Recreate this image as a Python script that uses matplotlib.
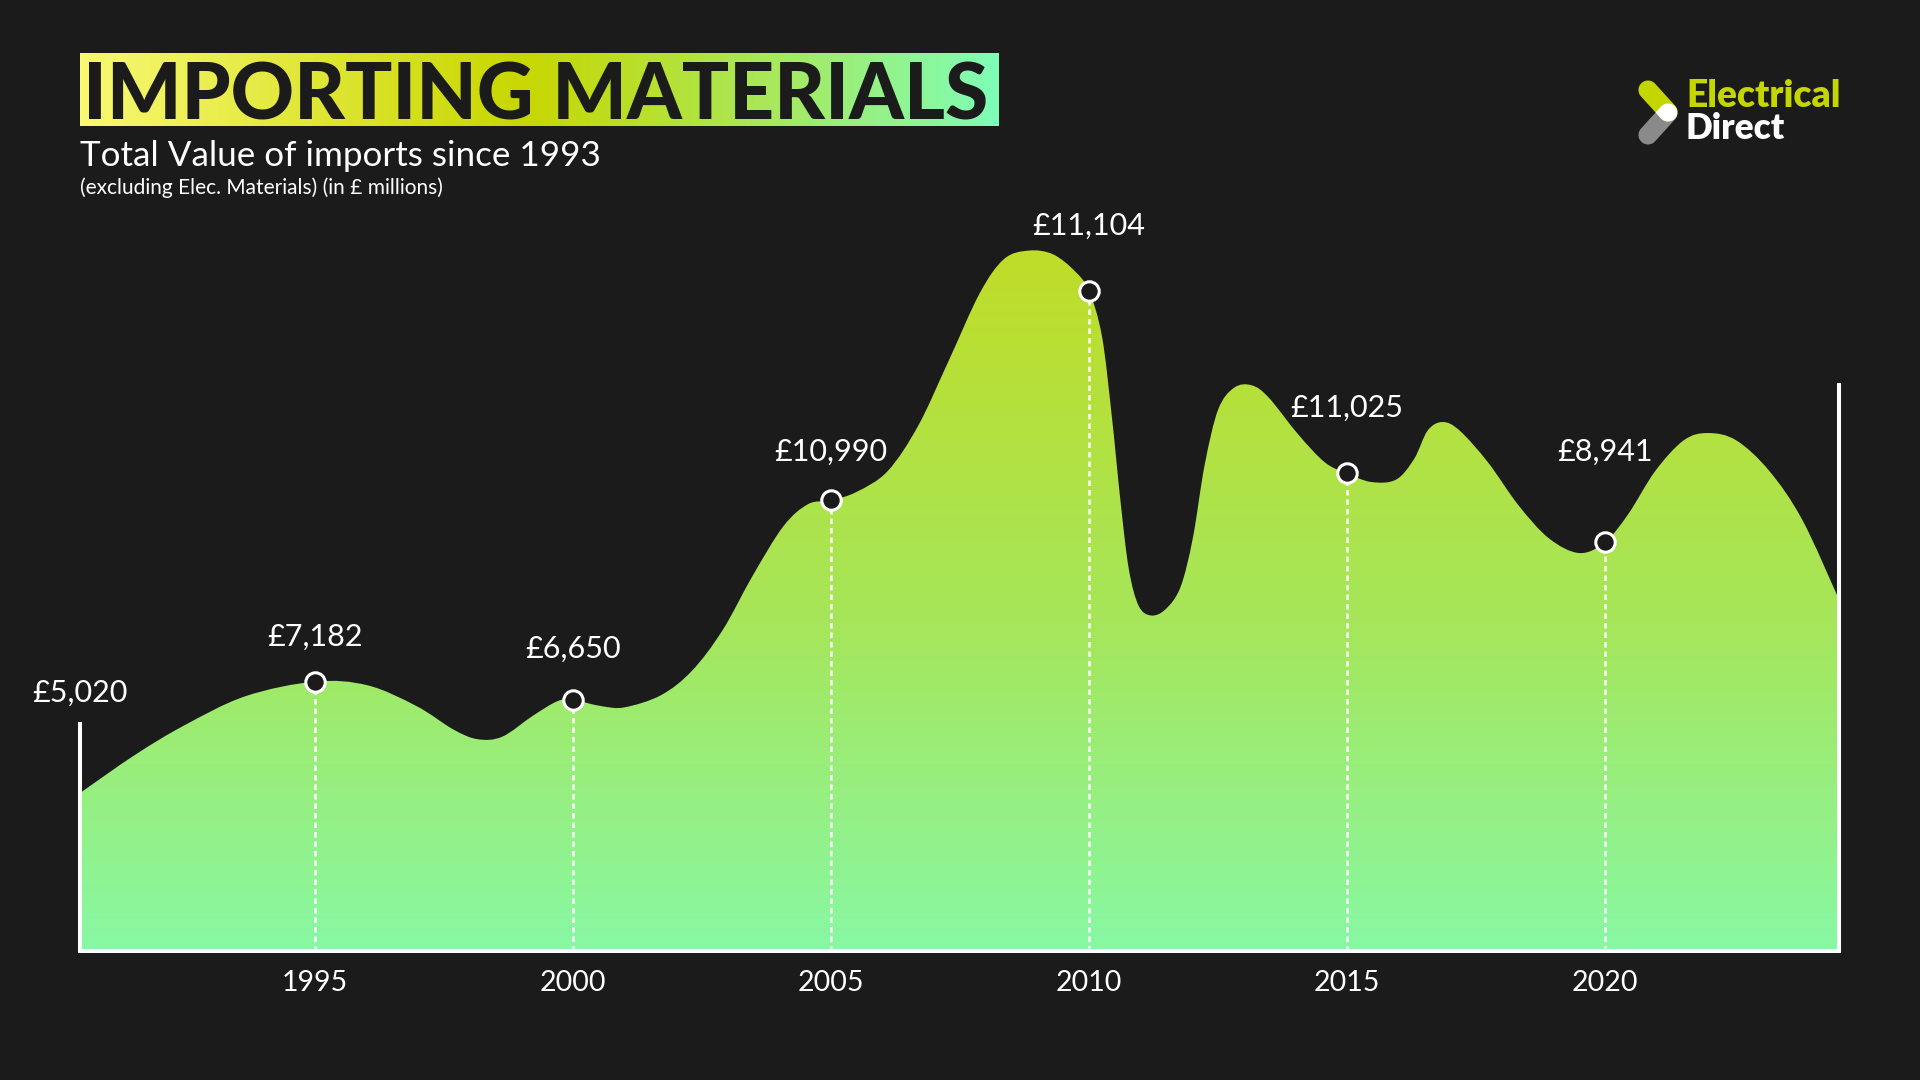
import numpy as np
import matplotlib
matplotlib.use("Agg")
import matplotlib.pyplot as plt
from matplotlib.path import Path
from matplotlib.patches import PathPatch, Polygon
from matplotlib.colors import LinearSegmentedColormap

BG = "#1b1b1b"
FONT = ["Lato", "DejaVu Sans"]

# ---------------- data ----------------
curve_years = [1990.45, 1991.51, 1992.46, 1993.65, 1995.00, 1996.02, 1996.97, 1997.68,
               1998.15, 1998.63, 1999.22, 1999.70, 2000.00, 2000.55, 2001.00, 2001.71,
               2002.31, 2002.90, 2003.49, 2004.08, 2004.56, 2005.00, 2005.50, 2006.10,
               2006.69, 2007.28, 2007.88, 2008.35, 2008.83, 2009.30, 2009.73, 2010.00,
               2010.25, 2010.44, 2010.61, 2010.77, 2010.96, 2011.20, 2011.48, 2011.77,
               2012.01, 2012.24, 2012.50, 2012.81, 2013.15, 2013.48, 2014.05, 2014.57,
               2015.00, 2015.47, 2015.95, 2016.30, 2016.56, 2016.85, 2017.18, 2017.73,
               2018.32, 2018.91, 2019.50, 2020.00, 2020.45, 2020.97, 2021.52, 2021.99,
               2022.54, 2023.18, 2023.82, 2024.53]
curve_height = [129, 160, 184, 208, 220, 217, 200, 181,
                173, 175, 192, 204, 205, 200, 199, 209,
                229, 262, 307, 347, 365, 368, 375, 392,
                429, 482, 537, 565, 572, 569, 555, 539,
                502, 437, 367, 312, 282, 274, 279, 297,
                337, 397, 442, 460, 462, 452, 422, 399,
                390, 383, 385, 402, 425, 432, 425, 399,
                364, 337, 325, 334, 357, 392, 417, 423,
                417, 392, 352, 287]

tick_years = [1995, 2000, 2005, 2010, 2015, 2020]
tick_labels = ["1995", "2000", "2005", "2010", "2015", "2020"]

value_labels = ["£5,020", "£7,182", "£6,650", "£10,990", "£11,104", "£11,025", "£8,941"]

left_frame_height = 187
right_frame_height = 464

# ---------------- layout / style ----------------
label_offsets = [72, 32.6, 37, 35.3, 46.7, 47.6, 65.2]   # points above the curve point
W, H = 1920, 1080
fig = plt.figure(figsize=(W / 100, H / 100), dpi=100, facecolor=BG)

x0, x1 = curve_years[0], curve_years[-1]
ymax_units = 700
ax_left, ax_right, ax_bottom = 80, 1839, 1080 - 951
ax = fig.add_axes([ax_left / W, ax_bottom / H, (ax_right - ax_left) / W,
                   ymax_units * 1.2245 / H])
ax.set_facecolor(BG)

# smooth curve via Catmull-Rom -> cubic Bezier
P = np.column_stack([curve_years, curve_height]).astype(float)
Pe = np.vstack([P[0], P, P[-1]])
verts = [tuple(P[0])]
codes = [Path.MOVETO]
for i in range(len(P) - 1):
    p0, p1, p2, p3 = Pe[i], Pe[i + 1], Pe[i + 2], Pe[i + 3]
    c1 = p1 + (p2 - p0) / 6.0
    c2 = p2 - (p3 - p1) / 6.0
    verts += [tuple(c1), tuple(c2), tuple(p2)]
    codes += [Path.CURVE4] * 3
verts += [(x1, 0), (x0, 0), (x0, curve_height[0])]
codes += [Path.LINETO, Path.LINETO, Path.CLOSEPOLY]
fill_path = Path(verts, codes)
patch = PathPatch(fill_path, facecolor="none", edgecolor="none")
ax.add_patch(patch)

fill_cmap = LinearSegmentedColormap.from_list(
    "fill", [(0.0, "#88f8a4"), (0.47, "#a6e65a"), (1.0, "#bfdd28")])
grad = np.linspace(0, 1, 512).reshape(-1, 1)
im = ax.imshow(grad, extent=[x0, x1, 0, max(curve_height)], origin="lower",
               cmap=fill_cmap, aspect="auto", interpolation="bicubic", zorder=1)
im.set_clip_path(patch)

# markers and dashed drop lines
marker_h = [curve_height[curve_years.index(float(y))] for y in tick_years]
ax.vlines(tick_years, 0, marker_h, colors="white", linestyles=(0, (2.2, 1.6)),
          linewidth=1.8, zorder=2)
ax.plot(tick_years, marker_h, linestyle="none", marker="o", ms=14, mfc=BG,
        mec="white", mew=2.2, zorder=4)

# frame lines
lw_frame = 2.9
ax.plot([x0, x1], [0, 0], color="white", lw=lw_frame, solid_capstyle="projecting",
        clip_on=False, zorder=3)
ax.plot([x0, x0], [0, left_frame_height], color="white", lw=lw_frame,
        solid_capstyle="butt", clip_on=False, zorder=3)
ax.plot([x1, x1], [0, right_frame_height], color="white", lw=lw_frame,
        solid_capstyle="butt", clip_on=False, zorder=3)

# value labels
label_x = [x0] + tick_years
label_y = [curve_height[0]] + marker_h
for lbl, lx, ly, off in zip(value_labels, label_x, label_y, label_offsets):
    ax.annotate(lbl, (lx, ly), xytext=(0, off), textcoords="offset points",
                ha="center", va="center", color="white", fontsize=22,
                family=FONT, zorder=5, annotation_clip=False)

ax.set_xlim(x0, x1)
ax.set_ylim(0, ymax_units)
ax.set_xticks(tick_years, tick_labels)
ax.set_yticks([])
ax.tick_params(axis="x", length=0, pad=14, labelsize=20.5, labelcolor="white")
for lab in ax.get_xticklabels():
    lab.set_family(FONT)
for s in ax.spines.values():
    s.set_visible(False)

# ---------------- overlay: title, subtitles, logo ----------------
ov = fig.add_axes([0, 0, 1, 1], zorder=6)
ov.patch.set_alpha(0)
ov.axis("off")

title_cmap = LinearSegmentedColormap.from_list(
    "title", [(0.0, "#f9f872"), (0.48, "#c8d700"), (0.75, "#a9e85a"), (1.0, "#7ffdb8")])
ov.imshow(np.linspace(0, 1, 256).reshape(1, -1), extent=[80, 999, 126, 53],
          cmap=title_cmap, aspect="auto", interpolation="bicubic")
ov.set_xlim(0, W)
ov.set_ylim(H, 0)

renderer = fig.canvas.get_renderer()


def fit(t, target_w):
    bb = t.get_window_extent(renderer)
    t.set_fontsize(t.get_fontsize() * target_w / bb.width)


t = ov.text(83, 119, "IMPORTING MATERIALS", ha="left", va="baseline",
            fontsize=58, fontweight="black", family=FONT, color=BG)
fit(t, 904)
t = ov.text(80, 166, "Total Value of imports since 1993", ha="left", va="baseline",
            fontsize=24, fontweight="normal", family=FONT, color="white")
fit(t, 521)
t = ov.text(80, 194, "(excluding Elec. Materials) (in £ millions)", ha="left",
            va="baseline", fontsize=12, fontweight="normal", family=FONT, color="white")
fit(t, 362)

# logo


def capsule(p1, p2, r, n=40):
    p1, p2 = np.asarray(p1, float), np.asarray(p2, float)
    a = np.arctan2(p2[1] - p1[1], p2[0] - p1[0])
    t1 = np.linspace(a - np.pi / 2, a + np.pi / 2, n)
    t2 = np.linspace(a + np.pi / 2, a + 3 * np.pi / 2, n)
    pts = np.vstack([p2 + r * np.column_stack([np.cos(t1), np.sin(t1)]),
                     p1 + r * np.column_stack([np.cos(t2), np.sin(t2)])])
    return pts


lime_pts = capsule((1648, 90), (1668, 112), 9.5)
grey_pts = capsule((1648, 135), (1668, 113), 9.5)
grey = Polygon(grey_pts, closed=True, fc="#8a8a8a", ec="none")
lime = Polygon(lime_pts, closed=True, fc="#c3d600", ec="none")
ov.add_patch(grey)
ov.add_patch(lime)
white = Polygon(grey_pts, closed=True, fc="white", ec="none")
ov.add_patch(white)
white.set_clip_path(lime)

t = ov.text(1686, 107, "Electrical", ha="left", va="baseline", fontsize=24,
            fontweight="heavy", family=FONT, color="#c3d600")
fit(t, 154)
t = ov.text(1686, 139, "Direct", ha="left", va="baseline", fontsize=24,
            fontweight="heavy", family=FONT, color="white")
fit(t, 99)

fig.savefig("out.png", dpi=100, facecolor=BG)
